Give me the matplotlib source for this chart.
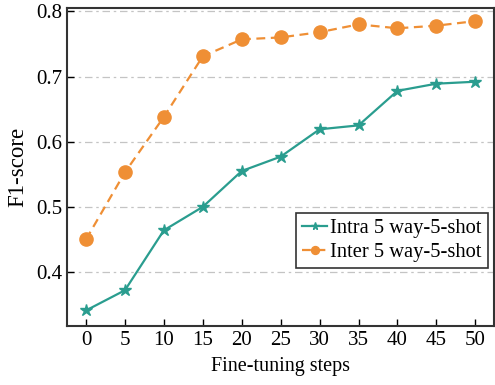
import numpy as np
import matplotlib
matplotlib.use("Agg")
import matplotlib.pyplot as plt

# 数据
steps = [0, 5, 10, 15, 20, 25, 30, 35, 40, 45, 50]
intra_f1 = [0.341, 0.372, 0.464, 0.500, 0.555, 0.577, 0.619, 0.625, 0.678, 0.689, 0.692]
inter_f1 = [0.450, 0.553, 0.638, 0.731, 0.757, 0.760, 0.768, 0.780, 0.774, 0.778, 0.785]
y_ticks = [0.4, 0.5, 0.6, 0.7, 0.8]

plt.rcParams['font.family'] = ['Liberation Serif', 'DejaVu Serif']

fig = plt.figure(figsize=(4.95, 3.85), dpi=100)
ax = fig.add_axes([0.136, 0.153, 0.862, 0.826])

ax.plot(steps, intra_f1, color='#2a9d8f', marker='*', markersize=9, linewidth=1.6,
        label='Intra 5 way-5-shot')
ax.plot(steps, inter_f1, color='#ef8f35', marker='o', markersize=9.5, linewidth=1.6,
        linestyle='--', dashes=(4, 2.5), label='Inter 5 way-5-shot')

ax.set_xlim(-2.4, 52.4)
ax.set_ylim(0.317, 0.805)
ax.set_xticks(steps)
ax.set_yticks(y_ticks)
ax.set_yticklabels([f'{v:.1f}' for v in y_ticks])
ax.tick_params(direction='in', labelsize=15, length=5, width=1)
ax.grid(axis='y', color='#c4c4c4', linestyle='-.', linewidth=0.9, dashes=(6, 3, 2, 3))
ax.set_axisbelow(True)

for s in ax.spines.values():
    s.set_linewidth(1.5)
    s.set_color('#333333')

ax.set_xlabel('Fine-tuning steps', fontsize=14.5, labelpad=5)
ax.set_ylabel('F1-score', fontsize=16.5, labelpad=6)

leg = ax.legend(loc='lower right', bbox_to_anchor=(0.985, 0.183), fontsize=14.8,
                fancybox=False, framealpha=1, edgecolor='#333333',
                handlelength=1.2, handletextpad=0.15, borderpad=0.3,
                labelspacing=0.2, borderaxespad=0, markerscale=0.6)
leg.get_frame().set_linewidth(1.2)

fig.savefig('out.png', dpi=100)
